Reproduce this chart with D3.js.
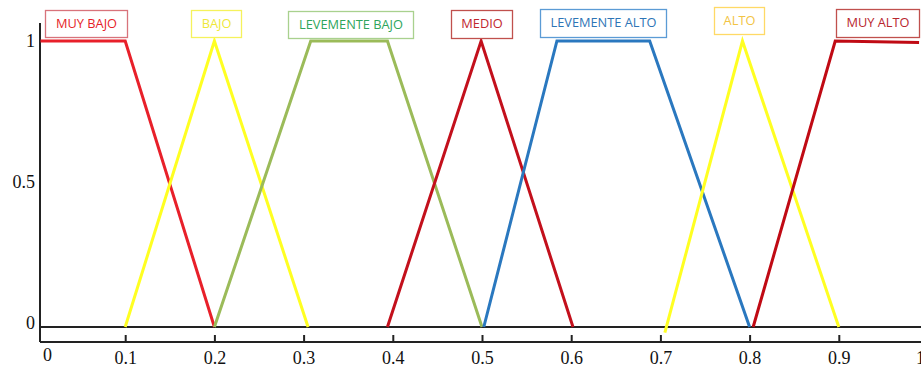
<!DOCTYPE html>
<html><head><meta charset="utf-8">
<script src="https://cdn.jsdelivr.net/npm/d3@7"></script>
<style>body{margin:0;background:#fff}svg{display:block}</style>
</head><body>
<script>
// Data
const setNames = ["MUY BAJO","BAJO","LEVEMENTE BAJO","MEDIO","LEVEMENTE ALTO","ALTO","MUY ALTO"];
const muyBajo = [[0.005,1],[0.1,1],[0.2,0]];
const bajo = [[0.1,0],[0.2,1],[0.305,0]];
const levBajo = [[0.2,0],[0.308,1],[0.394,1],[0.5,0]];
const medio = [[0.394,0],[0.499,1],[0.602,0]];
const levAlto = [[0.502,0],[0.584,1],[0.688,1],[0.8,0]];
const alto = [[0.705,-0.02],[0.792,1],[0.9,0]];
const muyAlto = [[0.804,0],[0.896,1],[0.99,0.995]];
const xTicks = [0,0.1,0.2,0.3,0.4,0.5,0.6,0.7,0.8,0.9,1];
const yTicks = [0,0.5,1];
const series = [muyBajo,bajo,levBajo,medio,levAlto,alto,muyAlto];
const lineColors = ["#e8202a","#ffff22","#9bbb59","#c3101c","#2a78bf","#ffff22","#c00a14"];
const textColors = ["#e61e28","#eee83a","#2ea55c","#c0262e","#2e75b6","#f2c443","#b8262e"];
const borderColors = ["#d8737b","#f5f25c","#a9d18e","#c0504d","#5b9bd5","#ffd966","#c0504d"];
// label boxes: [x0,y0,x1,y1]
const boxes = [[45,10,127,37],[191,10,241,37],[288,11,413,38],[451,10,512,38],[540,9,666,37],[714,7,764,34],[836,9,919,37]];

const W=921,H=368;
const svg=d3.select("body").append("svg").attr("width",W).attr("height",H);
const x=d3.scaleLinear().domain([0,1]).range([36,928]);
const y=d3.scaleLinear().domain([0,1]).range([327,41]);

// zero line
svg.append("line").attr("x1",40).attr("x2",W).attr("y1",y(0)).attr("y2",y(0))
  .attr("stroke","#222").attr("stroke-width",2);

// bottom axis
const xa=svg.append("g").attr("transform","translate(0,342)")
  .call(d3.axisBottom(x).tickValues(xTicks).tickSize(-7).tickPadding(9).tickFormat(d=>d===0?"0":d===1?"1":d3.format(".1f")(d)));
xa.select(".domain").remove();
xa.selectAll(".tick line").attr("stroke","#222").attr("stroke-width",2).filter(d=>d===0).remove();
xa.selectAll(".tick text").attr("font-family","Liberation Serif").attr("font-size",18).attr("fill","#111");
xa.selectAll(".tick text").filter(d=>d===0).attr("dx",11).attr("dy","0.55em");
xa.selectAll(".tick text").filter(d=>d===1).attr("dx",-8);
xa.append("line").attr("x1",40).attr("x2",W).attr("y1",0).attr("y2",0).attr("stroke","#222").attr("stroke-width",2);

// left axis
const ya=svg.append("g").attr("transform","translate(40,0)")
  .call(d3.axisLeft(y).tickValues(yTicks).tickSize(0).tickPadding(5).tickFormat(d=>d===0.5?"0.5":String(d)));
ya.select(".domain").remove();
ya.selectAll(".tick text").attr("font-family","Liberation Serif").attr("font-size",18).attr("fill","#111");
ya.selectAll(".tick text").filter(d=>d===0).attr("dy","0.1em");
ya.selectAll(".tick text").filter(d=>d===0.5).attr("dy","0.2em");
ya.append("line").attr("x1",0).attr("x2",0).attr("y1",23).attr("y2",342).attr("stroke","#222").attr("stroke-width",2);

// curves
const line=d3.line().x(d=>x(d[0])).y(d=>y(d[1]));
svg.append("g").selectAll("path").data(series).join("path")
  .attr("d",line).attr("fill","none")
  .attr("stroke",(d,i)=>lineColors[i]).attr("stroke-width",3).attr("stroke-linejoin","miter");

// labels
const lg=svg.append("g").selectAll("g").data(setNames).join("g");
lg.append("rect").attr("x",(d,i)=>boxes[i][0]+0.5).attr("y",(d,i)=>boxes[i][1]+0.5)
  .attr("width",(d,i)=>boxes[i][2]-boxes[i][0]).attr("height",(d,i)=>boxes[i][3]-boxes[i][1])
  .attr("fill","#fff").attr("stroke",(d,i)=>borderColors[i]).attr("stroke-width",1.3);
lg.append("text").attr("x",(d,i)=>(boxes[i][0]+boxes[i][2])/2+0.5).attr("y",(d,i)=>(boxes[i][1]+boxes[i][3])/2+1)
  .attr("text-anchor","middle").attr("dominant-baseline","middle")
  .attr("font-family","Open Sans").attr("font-size",12.8)
  .attr("fill",(d,i)=>textColors[i]).text(d=>d);
</script>
</body></html>
